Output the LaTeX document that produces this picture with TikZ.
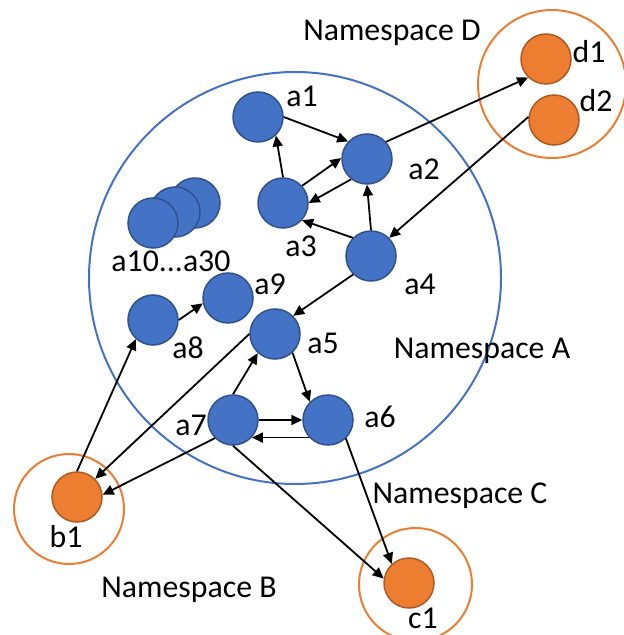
\documentclass[tikz,border=0pt]{standalone}
\usepackage{fontspec}
\setmainfont{Carlito}
\usetikzlibrary{arrows.meta}
\definecolor{nblue}{HTML}{4472C4}
\definecolor{nblueb}{HTML}{2F528F}
\definecolor{norange}{HTML}{ED7D31}
\definecolor{norangeb}{HTML}{AE5A21}
\tikzset{
  bnode/.style={circle,fill=nblue,draw=nblueb,line width=0.75pt,minimum size=25pt,inner sep=0pt},
  onode/.style={circle,fill=norange,draw=norangeb,line width=0.75pt,minimum size=25pt,inner sep=0pt},
  lbl/.style={anchor=base,inner sep=0pt,font=\fontsize{15.9}{19}\selectfont},
  arr/.style={-{Triangle[length=5.5pt,width=5pt]},line width=0.9pt,black},
  nsA/.style={draw=nblue,line width=1pt},
  nsO/.style={draw=norange,line width=1pt}
}
\begin{document}
\begin{tikzpicture}[x=0.5pt,y=-0.5pt]
\useasboundingbox (0,0) rectangle (624,635);
% namespace circles
\draw[nsA] (295,278) circle (206);
\draw[nsO] (69,509) circle (55);
\draw[nsO] (415.5,584.5) circle (56.5);
\draw[nsO] (552,84) circle (74);
% nodes
\node[bnode] (a1) at (258,117) {};
\node[bnode] (a2) at (367,159) {};
\node[bnode] (a3) at (283,203) {};
\node[bnode] (a4) at (371,256) {};
\node[bnode] (a30) at (195,203) {};
\node[bnode] (a20) at (175,212) {};
\node[bnode] (a10) at (153,223) {};
\node[bnode] (a9) at (228,298) {};
\node[bnode] (a8) at (153,320) {};
\node[bnode] (a5) at (275,334) {};
\node[bnode] (a7) at (233,420) {};
\node[bnode] (a6) at (328,420) {};
\node[onode] (b1) at (77,497) {};
\node[onode] (c1) at (409,583) {};
\node[onode] (d1) at (546,59) {};
\node[onode] (d2) at (554,120) {};
% labels
\node[lbl] (la1) at (302,107) {a1};
\node[lbl] (la2) at (424,180) {a2};
\node[lbl] (la3) at (301,257) {a3};
\node[lbl] (la4) at (420,295) {a4};
\node[lbl] (la10) at (171,272) {a10...a30};
\node[lbl] (la9) at (270,295) {a9};
\node[lbl] (la8) at (188,358) {a8};
\node[lbl] (la5) at (323,353) {a5};
\node[lbl] (la7) at (191,435) {a7};
\node[lbl] (la6) at (380,427) {a6};
\node[lbl] (lb1) at (66,547) {b1};
\node[lbl] (lc1) at (423,628) {c1};
\node[lbl] (ld1) at (589,63) {d1};
\node[lbl] (ld2) at (596,112) {d2};
\node[lbl] (nsD) at (392,41) {Namespace D};
\node[lbl] (nsAl) at (482,358) {Namespace A};
\node[lbl] (nsC) at (460,503) {Namespace C};
\node[lbl] (nsB) at (189,597) {Namespace B};
% edges
\draw[arr] (a1.east) -- (a2.137);
\draw[arr] (a3.north) -- (a1.314);
\draw[arr] (a3.42) -- (a2.178);
\draw[arr] (a2.232) -- (a3.0);
\draw[arr] (a4.135) -- (a3.318);
\draw[arr] (a4.north) -- (a2.south);
\draw[arr] (a2.42) -- (d1.226);
\draw[arr] (d2.173) -- (a4.45);
\draw[arr] (a4.226) -- (a5.45);
\draw[arr] (a8.east) -- (a9.192);
\draw[arr] (a5.313) -- (a6.135);
\draw[arr] (a7.north) -- (a5.228);
\draw[arr] (a7.east) -- (a6.west);
\draw[arr] (a6.223) -- (a7.317);
\draw[arr] (a5.180) -- (b1.45);
\draw[arr] (a7.225) -- (b1.5);
\draw[arr] (b1.north) -- (a8.228);
\draw[arr] (a7.south) -- (c1.170);
\draw[arr] (a6.314) -- (c1.132);
\end{tikzpicture}
\end{document}
